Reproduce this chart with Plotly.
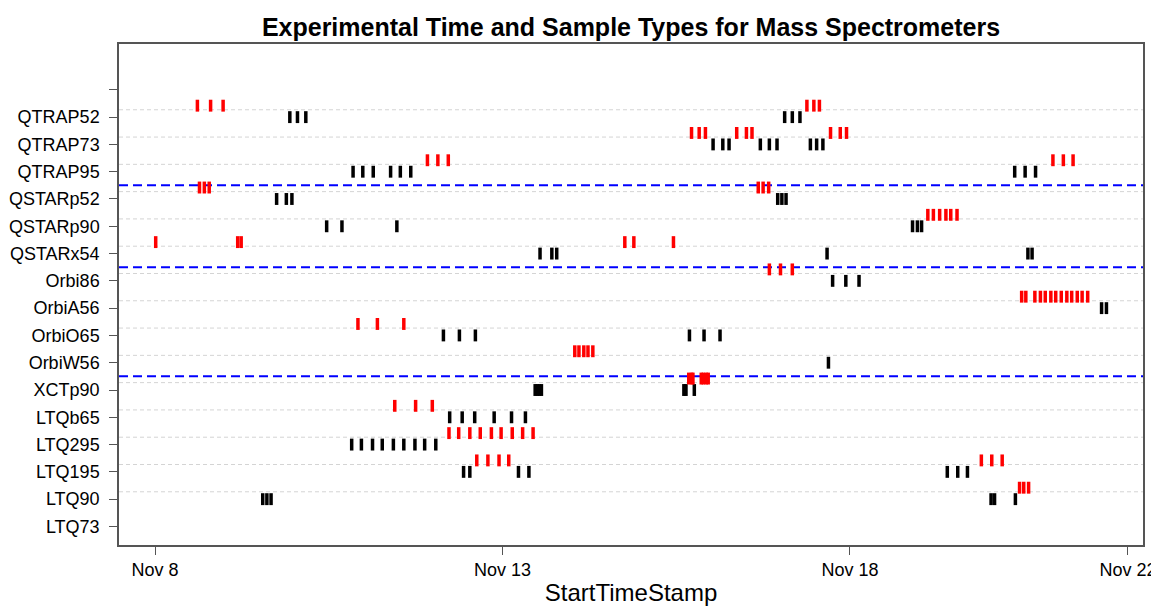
import pandas as pd
import plotly.graph_objects as go

# ------------------------------
# Data (times given as day of November, decimal)
# ------------------------------
YEAR_MONTH = "2011-11-01"

# bottom -> top; y position = index + 1
INSTRUMENTS = [
    "LTQ73", "LTQ90", "LTQ195", "LTQ295", "LTQb65", "XCTp90",
    "OrbiW56", "OrbiO65", "OrbiA56", "Orbi86",
    "QSTARx54", "QSTARp90", "QSTARp52",
    "QTRAP95", "QTRAP73", "QTRAP52",
]

# last instrument of each group (blue separator drawn above it)
GROUP_ENDS = ["XCTp90", "Orbi86", "QSTARp52"]

BLACK_TIMES = {
    "LTQ90": [9.55, 9.61, 9.67, 20.03, 20.08, 20.38],
    "LTQ195": [12.44, 12.53, 13.23, 13.38, 19.40, 19.55, 19.69],
    "LTQ295": [10.83, 10.97, 11.13, 11.27, 11.43, 11.58, 11.74, 11.88, 12.04],
    "LTQb65": [12.24, 12.42, 12.60, 12.88, 13.13, 13.33],
    "XCTp90": [13.47, 13.50, 13.53, 13.56, 15.61, 15.64, 15.76],
    "OrbiW56": [17.69],
    "OrbiO65": [12.15, 12.38, 12.61, 15.69, 15.90, 16.13],
    "OrbiA56": [21.62, 21.69],
    "Orbi86": [17.75, 17.94, 18.13],
    "QSTARx54": [13.54, 13.71, 13.78, 17.67, 20.56, 20.62],
    "QSTARp90": [10.47, 10.69, 11.48, 18.90, 18.97, 19.03],
    "QSTARp52": [9.75, 9.89, 9.97, 16.96, 17.02, 17.08],
    "QTRAP95": [10.85, 10.99, 11.14, 11.39, 11.53, 11.68, 20.37, 20.52, 20.67],
    "QTRAP73": [16.03, 16.17, 16.26, 16.71, 16.84, 16.95, 17.43, 17.52, 17.61],
    "QTRAP52": [9.94, 10.05, 10.17, 17.06, 17.17, 17.28],
}

RED_TIMES = {
    "LTQ90": [20.44, 20.50, 20.57],
    "LTQ195": [12.63, 12.79, 12.95, 13.09, 19.89, 20.04, 20.19],
    "LTQ295": [12.23, 12.37, 12.53, 12.68, 12.84, 12.98, 13.14, 13.29, 13.44],
    "LTQb65": [11.45, 11.75, 11.99],
    "XCTp90": [15.68, 15.72, 15.74, 15.86, 15.89, 15.93, 15.96],
    "OrbiW56": [14.04, 14.10, 14.17, 14.23, 14.30],
    "OrbiO65": [10.92, 11.20, 11.58],
    "OrbiA56": [20.47, 20.53, 20.66, 20.74, 20.81, 20.89, 20.96, 21.04,
                21.12, 21.19, 21.27, 21.34, 21.42],
    "Orbi86": [16.84, 17.00, 17.17],
    "QSTARx54": [8.01, 9.19, 9.24, 14.76, 14.89, 15.46],
    "QSTARp90": [19.12, 19.20, 19.29, 19.38, 19.45, 19.54],
    "QSTARp52": [8.64, 8.71, 8.78, 16.68, 16.75, 16.83],
    "QTRAP95": [11.92, 12.07, 12.22, 20.92, 21.07, 21.21],
    "QTRAP73": [15.72, 15.83, 15.92, 16.37, 16.51, 16.59, 17.72, 17.86, 17.95],
    "QTRAP52": [8.61, 8.80, 8.98, 17.38, 17.48, 17.56],
}

X_TICK_DAYS = [8, 13, 18, 22]
X_RANGE_DAYS = [7.482, 22.216]

RED_OFFSET = 0.42
GRID_OFFSET = 0.27
FONT = "Liberation Sans, Arial, Helvetica, sans-serif"

# page body has an 8px margin, so the figure is 8px smaller than the window
FIG_W, FIG_H = 1151, 598


def to_time(days):
    base = pd.Timestamp(YEAR_MONTH)
    return [base + pd.to_timedelta(d - 1, unit="D") for d in days]


def flatten(times, offset):
    xs, ys = [], []
    for i, name in enumerate(INSTRUMENTS, start=1):
        for d in times.get(name, []):
            xs.append(d)
            ys.append(i + offset)
    return to_time(xs), ys


def main():
    fig = go.Figure()

    for times, color, offset, label in [
        (BLACK_TIMES, "black", 0.0, "type 1"),
        (RED_TIMES, "red", RED_OFFSET, "type 2"),
    ]:
        x, y = flatten(times, offset)
        fig.add_trace(
            go.Scatter(
                x=x,
                y=y,
                mode="markers",
                name=label,
                marker=dict(
                    symbol="line-ns",
                    size=8.5,
                    line=dict(width=3.5, color=color),
                ),
                showlegend=False,
            )
        )

    # light dashed grid lines
    for i in range(2, len(INSTRUMENTS) + 1):
        fig.add_shape(
            type="line", xref="paper", x0=0, x1=1,
            y0=i + GRID_OFFSET, y1=i + GRID_OFFSET,
            line=dict(color="#d4d4d4", width=1, dash="4px,3px"),
            layer="below",
        )

    # blue group separators
    for name in GROUP_ENDS:
        yv = INSTRUMENTS.index(name) + 1.5
        fig.add_shape(
            type="line", xref="paper", x0=0, x1=1, y0=yv, y1=yv,
            line=dict(color="#0000ff", width=2, dash="9px,5px"),
            layer="below",
        )

    tick_vals = list(range(1, len(INSTRUMENTS) + 2))
    tick_text = INSTRUMENTS + [""]

    fig.update_layout(
        title=dict(
            text="<b>Experimental Time and Sample Types for Mass Spectrometers</b>",
            x=0.5, xref="paper", xanchor="center",
            y=1 - 19 / FIG_H, yref="container", yanchor="middle",
            font=dict(family=FONT, size=25, color="black"),
        ),
        width=FIG_W,
        height=FIG_H,
        margin=dict(l=111, r=16, t=36, b=61, autoexpand=False),
        plot_bgcolor="white",
        paper_bgcolor="white",
        font=dict(family=FONT, size=18, color="black"),
    )

    fig.update_xaxes(
        type="date",
        range=to_time(X_RANGE_DAYS),
        tickvals=to_time(X_TICK_DAYS),
        ticktext=["Nov %d" % d for d in X_TICK_DAYS],
        ticks="outside", ticklen=8, tickcolor="#555",
        showline=True, mirror=True, linecolor="#555", linewidth=1.5,
        showgrid=False, zeroline=False, automargin=False,
        title=dict(text="StartTimeStamp", font=dict(size=24), standoff=11),
    )

    fig.update_yaxes(
        range=[0.32, 18.68],
        tickvals=tick_vals,
        ticktext=tick_text,
        ticks="outside", ticklen=8, tickcolor="#555",
        ticklabelstandoff=6,
        showline=True, mirror=True, linecolor="#555", linewidth=1.5,
        showgrid=False, zeroline=False, automargin=False,
    )

    fig.write_html("out.html")


if __name__ == "__main__":
    main()
